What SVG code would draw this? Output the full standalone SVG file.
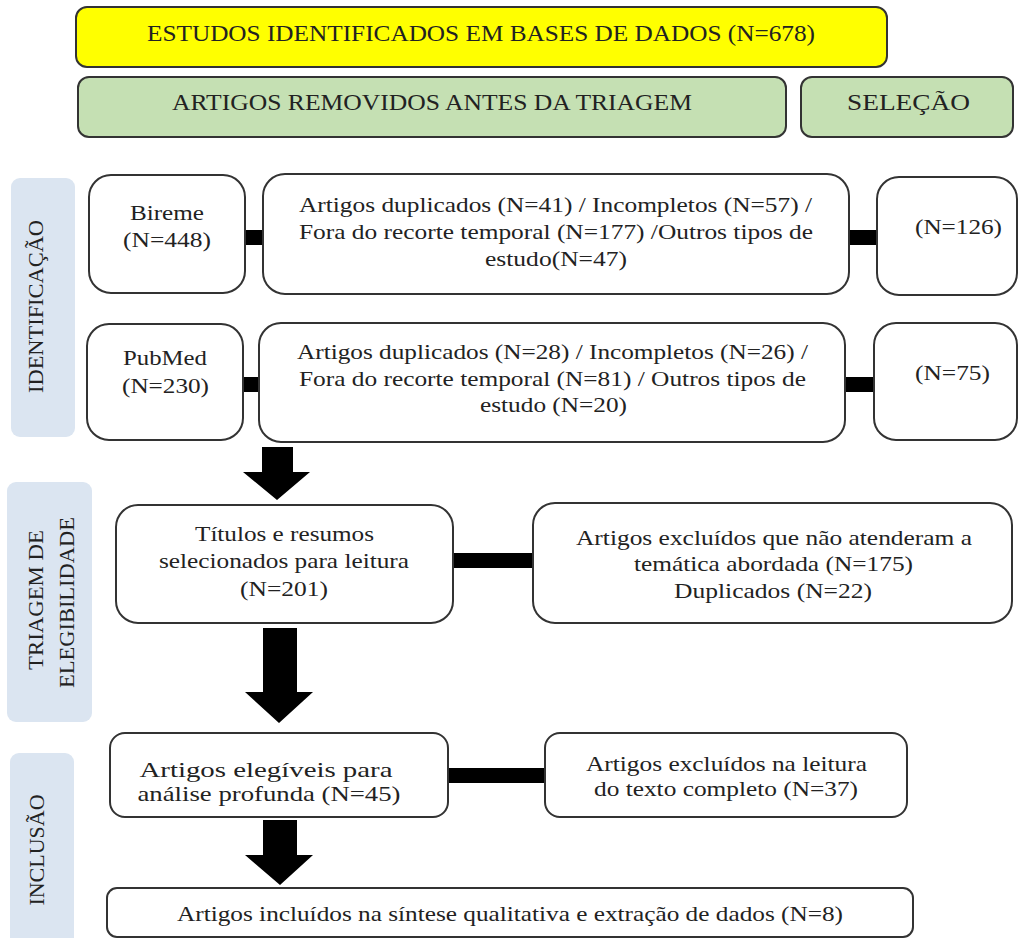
<svg xmlns="http://www.w3.org/2000/svg" width="1019" height="938" viewBox="0 0 1019 938">
<style>
text{font-family:'Liberation Serif','Times New Roman',serif;font-size:22px;fill:#222;text-anchor:middle}
.hd{font-size:23px}
.box{fill:#fff;stroke:#333;stroke-width:2}
.yel{fill:#ffff00;stroke:#333;stroke-width:2}
.grn{fill:#c5e0b3;stroke:#333;stroke-width:2}
.band{fill:#dbe5f1}
.bar{fill:#000}
</style>
<rect width="1019" height="938" fill="#fff"/>
<g id="band-identificacao"><rect class="band" x="11" y="178" width="64" height="259" rx="9"/><text transform="translate(43,306.5) rotate(-90)" textLength="173" lengthAdjust="spacingAndGlyphs">IDENTIFICAÇÃO</text></g>
<g id="band-triagem"><rect class="band" x="7" y="482" width="85" height="240" rx="9"/><text transform="translate(43,600) rotate(-90)" textLength="140" lengthAdjust="spacingAndGlyphs">TRIAGEM DE</text><text transform="translate(74,602.5) rotate(-90)" textLength="171" lengthAdjust="spacingAndGlyphs">ELEGIBILIDADE</text></g>
<g id="band-inclusao"><rect class="band" x="10" y="753" width="64" height="195" rx="9"/><text transform="translate(44,850) rotate(-90)">INCLUSÃO</text></g>
<g id="connectors">
<rect class="bar" x="244" y="230" width="20" height="15"/>
<rect class="bar" x="848" y="230" width="30" height="15"/>
<rect class="bar" x="242" y="377" width="18" height="15"/>
<rect class="bar" x="844" y="377" width="31" height="15"/>
<rect class="bar" x="452" y="553" width="82" height="15"/>
<rect class="bar" x="447" y="768" width="99" height="15"/>
<polygon class="bar" points="262,447 293,447 293,472 310,472 277,500 243,472 262,472"/>
<polygon class="bar" points="263,628 297,628 297,692 313,692 279,723 245,692 263,692"/>
<polygon class="bar" points="263,820 297,820 297,855 313,855 280,885 245,855 263,855"/>
</g>
<g id="n-estudos"><rect class="yel" x="76" y="7" width="811" height="60" rx="11"/><text class="hd" x="481" y="41" textLength="668" lengthAdjust="spacingAndGlyphs">ESTUDOS IDENTIFICADOS EM BASES DE DADOS (N=678)</text></g>
<g id="n-removidos"><rect class="grn" x="78" y="77" width="708" height="60" rx="11"/><text class="hd" x="432" y="110" textLength="520" lengthAdjust="spacingAndGlyphs">ARTIGOS REMOVIDOS ANTES DA TRIAGEM</text></g>
<g id="n-selecao"><rect class="grn" x="801" y="77" width="212" height="60" rx="11"/><text class="hd" x="908.5" y="110" textLength="123" lengthAdjust="spacingAndGlyphs">SELEÇÃO</text></g>
<g id="n-bireme"><rect class="box" x="89" y="175" width="156" height="118" rx="22"/><text x="167" y="220" textLength="74" lengthAdjust="spacingAndGlyphs">Bireme</text><text x="167" y="247" textLength="88" lengthAdjust="spacingAndGlyphs">(N=448)</text></g>
<g id="n-excl-bireme"><rect class="box" x="263" y="174" width="586" height="120" rx="22"/><text x="555.5" y="212" textLength="513" lengthAdjust="spacingAndGlyphs">Artigos duplicados (N=41) / Incompletos (N=57) /</text><text x="556" y="239" textLength="514" lengthAdjust="spacingAndGlyphs">Fora do recorte temporal (N=177) /Outros tipos de</text><text x="556" y="266" textLength="142" lengthAdjust="spacingAndGlyphs">estudo(N=47)</text></g>
<g id="n-sel-bireme"><rect class="box" x="877" y="177" width="140" height="118" rx="22"/><text x="958.5" y="234" textLength="87" lengthAdjust="spacingAndGlyphs">(N=126)</text></g>
<g id="n-pubmed"><rect class="box" x="87" y="324" width="156" height="116" rx="22"/><text x="165" y="365" textLength="84" lengthAdjust="spacingAndGlyphs">PubMed</text><text x="165.5" y="393" textLength="87" lengthAdjust="spacingAndGlyphs">(N=230)</text></g>
<g id="n-excl-pubmed"><rect class="box" x="259" y="323" width="586" height="119" rx="22"/><text x="552.5" y="359" textLength="511" lengthAdjust="spacingAndGlyphs">Artigos duplicados (N=28) / Incompletos (N=26) /</text><text x="552.5" y="386" textLength="507" lengthAdjust="spacingAndGlyphs">Fora do recorte temporal (N=81) / Outros tipos de</text><text x="553.5" y="412" textLength="147" lengthAdjust="spacingAndGlyphs">estudo (N=20)</text></g>
<g id="n-sel-pubmed"><rect class="box" x="874" y="323" width="143" height="117" rx="22"/><text x="952.5" y="380" textLength="75" lengthAdjust="spacingAndGlyphs">(N=75)</text></g>
<g id="n-titulos"><rect class="box" x="116" y="505" width="337" height="118" rx="22"/><text x="284.5" y="541" textLength="179" lengthAdjust="spacingAndGlyphs">Títulos e resumos</text><text x="284" y="568" textLength="250" lengthAdjust="spacingAndGlyphs">selecionados para leitura</text><text x="284" y="596" textLength="88" lengthAdjust="spacingAndGlyphs">(N=201)</text></g>
<g id="n-excl-tematica"><rect class="box" x="533" y="503" width="479" height="120" rx="22"/><text x="774" y="545" textLength="396" lengthAdjust="spacingAndGlyphs">Artigos excluídos que não atenderam a</text><text x="773.5" y="571" textLength="279" lengthAdjust="spacingAndGlyphs">temática abordada (N=175)</text><text x="773" y="598" textLength="198" lengthAdjust="spacingAndGlyphs">Duplicados (N=22)</text></g>
<g id="n-elegiveis"><rect class="box" x="110" y="733" width="338" height="84" rx="15"/><text x="266" y="777" textLength="253" lengthAdjust="spacingAndGlyphs">Artigos elegíveis para</text><text x="269" y="801" textLength="263" lengthAdjust="spacingAndGlyphs">análise profunda (N=45)</text></g>
<g id="n-excl-leitura"><rect class="box" x="545" y="733" width="362" height="84" rx="15"/><text x="726.5" y="771" textLength="281" lengthAdjust="spacingAndGlyphs">Artigos excluídos na leitura</text><text x="726" y="796" textLength="264" lengthAdjust="spacingAndGlyphs">do texto completo (N=37)</text></g>
<g id="n-incluidos"><rect class="box" x="107" y="888" width="806" height="49" rx="10"/><text x="510" y="921" textLength="666" lengthAdjust="spacingAndGlyphs">Artigos incluídos na síntese qualitativa e extração de dados (N=8)</text></g>
</svg>
